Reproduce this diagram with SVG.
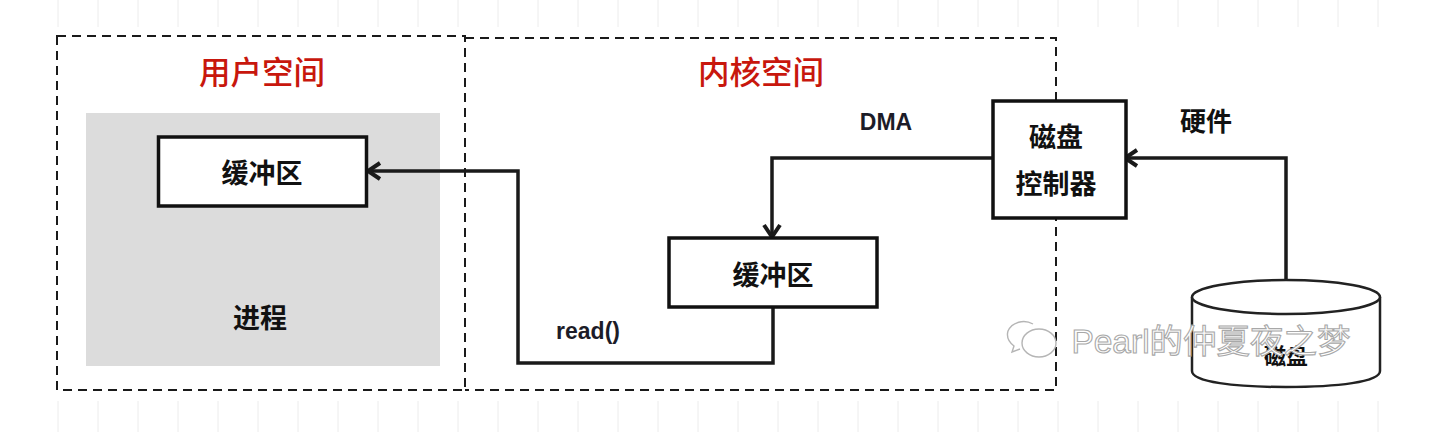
<svg xmlns="http://www.w3.org/2000/svg" width="1447" height="432" viewBox="0 0 1447 432">
<style>
.cjk{font-family:"Liberation Sans","Noto Sans CJK SC",sans-serif;font-weight:700;text-anchor:middle;fill:#111}
.title{font-size:31.500px;fill:#c8170d;font-weight:500}
.lab{font-size:27px}
.lat{font-family:"Liberation Sans","Noto Sans CJK SC",sans-serif;font-weight:700;font-size:23px;fill:#1c1c28;text-anchor:middle}
.box{fill:#fff;stroke:#111;stroke-width:3.500}
.dash{fill:none;stroke:#1a1a1a;stroke-width:2;stroke-dasharray:9 6}
.conn{fill:none;stroke:#1a1a1a;stroke-width:3.500}
.head{fill:none;stroke:#1a1a1a;stroke-width:4}
.tick{stroke:#ececec;stroke-width:1}
.disk{fill:#fff;stroke:#222;stroke-width:2.500}
.wm{fill:none;stroke:#b5b5b5;stroke-width:1.400}
</style>
<defs>
<marker id="arrow" markerUnits="userSpaceOnUse" markerWidth="20" markerHeight="24" refX="16" refY="12" orient="auto">
<path class="head" d="M4 4 L16 12 L4 20"/>
</marker>
</defs>
<rect width="1447" height="432" fill="#fff"/>
<g id="grid-ticks">
<path class="tick" d="M58 0V27M98 0V27M138 0V27M178 0V27M218 0V27M258 0V27M298 0V27M338 0V27M378 0V27M418 0V27M458 0V27M498 0V27M538 0V27M578 0V27M618 0V27M658 0V27M698 0V27M738 0V27M778 0V27M818 0V27M858 0V27M898 0V27M938 0V27M978 0V27M1018 0V27M1058 0V27M1098 0V27M1138 0V27M1178 0V27M1218 0V27M1258 0V27M1298 0V27M1338 0V27M1378 0V27"/>
<path class="tick" d="M58 401V432M98 401V432M138 401V432M178 401V432M218 401V432M258 401V432M298 401V432M338 401V432M378 401V432M418 401V432M458 401V432M498 401V432M538 401V432M578 401V432M618 401V432M658 401V432M698 401V432M738 401V432M778 401V432M818 401V432M858 401V432M898 401V432M938 401V432M978 401V432M1018 401V432M1058 401V432M1098 401V432M1138 401V432M1178 401V432M1218 401V432M1258 401V432M1298 401V432M1338 401V432M1378 401V432"/>
</g>
<g id="user-space">
<rect class="dash" x="57" y="36" width="408" height="354"/>
<text class="cjk title" x="262" y="84">用户空间</text>
</g>
<g id="kernel-space">
<path class="dash" d="M465 38H1056V390H465"/>
<text class="cjk title" x="761" y="84">内核空间</text>
</g>
<g id="process">
<rect x="86" y="113" width="354" height="253" fill="#dcdcdc"/>
<text class="cjk lab" x="260" y="328">进程</text>
</g>
<g id="connectors">
<path class="conn" marker-end="url(#arrow)" d="M773 307V363H518V171H368"/>
<path class="conn" marker-end="url(#arrow)" d="M993 158H772V237"/>
<path class="conn" marker-end="url(#arrow)" d="M1286 281V158H1125"/>
</g>
<g id="user-buffer">
<rect class="box" x="158.500" y="137" width="208" height="69"/>
<text class="cjk lab" x="262" y="183">缓冲区</text>
</g>
<g id="kernel-buffer">
<rect class="box" x="669" y="238" width="208" height="69"/>
<text class="cjk lab" x="773" y="285">缓冲区</text>
</g>
<g id="disk-controller">
<rect class="box" x="993" y="101" width="133" height="117"/>
<text class="cjk lab" x="1056" y="147">磁盘</text>
<text class="cjk lab" x="1056" y="194">控制器</text>
</g>
<g id="disk">
<path class="disk" d="M1192 297V371C1192 382 1235 387 1286 387S1380 382 1380 371V297"/>
<ellipse class="disk" cx="1286" cy="297" rx="94" ry="17"/>
<text class="cjk" font-size="22" x="1286" y="364">磁盘</text>
</g>
<g id="labels">
<text class="lat" x="886" y="130">DMA</text>
<text class="cjk" font-size="26" x="1206" y="131">硬件</text>
<text class="lat" x="588" y="339">read()</text>
</g>
<g id="watermark">
<path class="wm" d="M1033 324C1024 319 1012 322 1008 331C1006 338 1010 343 1014 346L1012 352L1020 349"/>
<ellipse class="wm" cx="1039" cy="343" rx="17" ry="14"/>
<text x="1211" y="353" font-family="'Liberation Sans','Noto Sans CJK SC',sans-serif" font-size="33.500" text-anchor="middle" fill="#fff" stroke="#a8a8a8" stroke-width="1.100">Pearl的仲夏夜之梦</text>
</g>
</svg>
